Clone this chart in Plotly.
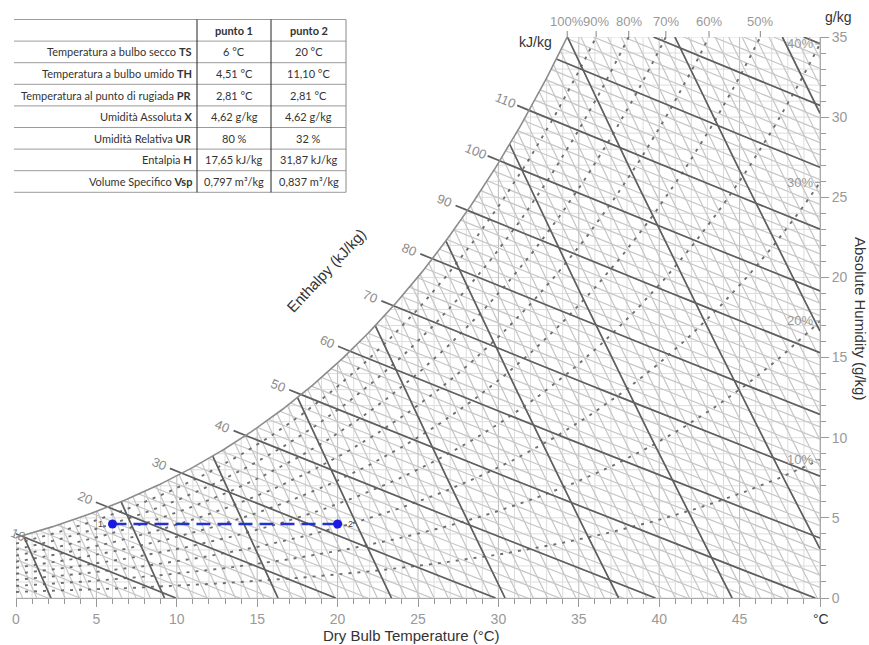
import numpy as np
import plotly.graph_objects as go

# ---------------- data ----------------
# process points (dry bulb °C, absolute humidity g/kg)
point_names = ["1", "2"]
point_t = [6, 20]
point_x = [4.62, 4.62]

# chart families
rh_levels = [0.1, 0.2, 0.3, 0.4, 0.5, 0.6, 0.7, 0.8, 0.9]
rh_top_labels = [1.0, 0.9, 0.8, 0.7, 0.6, 0.5]
rh_right_labels = [0.4, 0.3, 0.2, 0.1]
enthalpy_thin = list(range(2, 141, 2))          # kJ/kg
enthalpy_bold = list(range(10, 141, 10))        # kJ/kg
enthalpy_labelled = list(range(10, 111, 10))    # kJ/kg
volume_step_thin = 0.0025                      # m3/kg
volume_step_bold = 0.02                        # m3/kg
x_ticks = [0, 5, 10, 15, 20, 25, 30, 35, 40, 45, 50]
x_ticktext = ["0", "5", "10", "15", "20", "25", "30", "35", "40", "45", ""]
y_ticks = [0, 5, 10, 15, 20, 25, 30, 35]

# table
table_header = ["punto 1", "punto 2"]
row_labels = ["Temperatura a bulbo secco", "Temperatura a bulbo umido",
              "Temperatura al punto di rugiada", "Umidità Assoluta",
              "Umidità Relativa", "Entalpia", "Volume Specifico"]
row_codes = ["TS", "TH", "PR", "X", "UR", "H", "Vsp"]
punto1 = ["6 °C", "4,51 °C", "2,81 °C", "4,62 g/kg", "80 %", "17,65 kJ/kg", "0,797 m³/kg"]
punto2 = ["20 °C", "11,10 °C", "2,81 °C", "4,62 g/kg", "32 %", "31,87 kJ/kg", "0,837 m³/kg"]

# ---------------- psychrometrics ----------------
P = 101.325
TMAX, XMAX = 50.0, 35.0


def p_sat(t):
    return 0.61094 * np.exp(17.625 * t / (t + 243.04))


def x_sat(t):
    ps = p_sat(t)
    return 622.0 * ps / (P - ps)


def t_dew(x):
    ps = x * P / (622.0 + x)
    a = np.log(ps / 0.61094)
    return 243.04 * a / (17.625 - a)


def x_h(h, t):
    return (h - 1.006 * t) / (2.501 + 0.00186 * t)


def x_v(v, t):
    return (v * P / (0.287055 * (t + 273.15)) - 1.0) / 1.6078 * 1000.0


def upper(t):
    return min(x_sat(t), XMAX)


def bisect(f, a, b, n=70):
    fa = f(a)
    for _ in range(n):
        m = 0.5 * (a + b)
        fm = f(m)
        if (fm > 0) == (fa > 0):
            a, fa = m, fm
        else:
            b = m
    return 0.5 * (a + b)


def clip_line(fx, npts=25):
    if fx(0) < 0:
        return None
    if fx(TMAX) - upper(TMAX) > 0:
        return None
    if fx(0) <= upper(0):
        t0 = 0.0
    else:
        t0 = bisect(lambda t: fx(t) - upper(t), 0.0, TMAX)
    if fx(TMAX) >= 0:
        t1 = TMAX
    else:
        t1 = bisect(fx, t0, TMAX)
    if t1 <= t0:
        return None
    ts = np.linspace(t0, t1, npts)
    return list(ts), [fx(t) for t in ts]


def join(segs):
    X, Y = [], []
    for s in segs:
        if s is None:
            continue
        X += list(s[0]) + [None]
        Y += list(s[1]) + [None]
    return X, Y


fig = go.Figure()


def add_line(segs, color, width, dash="solid"):
    X, Y = join(segs)
    fig.add_trace(go.Scatter(x=X, y=Y, mode="lines", hoverinfo="skip",
                             line=dict(color=color, width=width, dash=dash),
                             showlegend=False))


# grid
vminor, vmajor = [], []
for t in range(0, 51):
    seg = ([t, t], [0, upper(t)])
    (vmajor if t % 5 == 0 else vminor).append(seg)
hgrid = []
for x in range(0, 36):
    t0 = 0.0 if x <= x_sat(0) else float(t_dew(x))
    hgrid.append(([t0, TMAX], [x, x]))
add_line(vminor + hgrid, "#dddddd", 1)
add_line(vmajor, "#bcbcbc", 1)

# thin enthalpy & volume lines
ent_thin = [clip_line(lambda t, h=h: x_h(h, t)) for h in enthalpy_thin]
k_lo, k_hi = int(0.77 / volume_step_thin), int(0.97 / volume_step_thin) + 1
vol_thin = [clip_line(lambda t, v=k * volume_step_thin: x_v(v, t)) for k in range(k_lo, k_hi)]
add_line(ent_thin + vol_thin, "#c6c6c6", 1.2)

# relative humidity curves (dotted)
rh_segs = []
for phi in rh_levels:
    if phi * x_sat(TMAX) <= XMAX:
        te = TMAX
    else:
        te = bisect(lambda t, p=phi: p * x_sat(t) - XMAX, 0.0, TMAX)
    ts = np.linspace(0, te, 150)
    rh_segs.append((list(ts), [phi * x_sat(t) for t in ts]))
add_line(rh_segs, "#6e6e6e", 1.9, dash="3px,6px")

# bold enthalpy + volume lines, with leaders for labelled enthalpies
bold = [clip_line(lambda t, h=h: x_h(h, t)) for h in enthalpy_bold]
kb = int(round(volume_step_bold / volume_step_thin))
bold += [clip_line(lambda t, v=k * volume_step_thin: x_v(v, t))
         for k in range(k_lo, k_hi) if k % kb == 0]
ent_label_pos = []
for h in enthalpy_labelled:
    ts_ = bisect(lambda t, h=h: x_h(h, t) - x_sat(t), 0.0, TMAX)
    lt = [ts_ - 0.75, ts_]
    bold.append((lt, [x_h(h, t) for t in lt]))
    tl = max(ts_ - 1.45, 0.1)
    ent_label_pos.append((h, tl, x_h(h, tl)))
add_line(bold, "#5f5f5f", 1.7)

# saturation curve
t_top = bisect(lambda t: x_sat(t) - XMAX, 0.0, TMAX)
ts = np.linspace(0, t_top, 200)
add_line([(list(ts), [x_sat(t) for t in ts])], "#8c8c8c", 1.6)

# process
fig.add_trace(go.Scatter(x=point_t, y=point_x, mode="lines+markers", hoverinfo="skip",
                         line=dict(color="#2233cc", width=2.4, dash="14px,7px"),
                         marker=dict(color="#1a1ae6", size=9), showlegend=False))

# ---------------- layout ----------------
# screen plot area: x 16..820, y 37..598 (page body margin removed below)
W, H = 869, 645
SL, SR, ST, SB = 16, 820, 37, 598
L, T, R, B = SL, ST, W - SR, H - SB
PW, PH = SR - SL, SB - ST


def px(xs):
    return (xs - SL) / PW


def py(ys):
    return (SB - ys) / PH


ann = []
shapes = []
GRAY = "#999999"
DARK = "#333333"


def A(**kw):
    kw.setdefault("showarrow", False)
    kw.setdefault("xanchor", "center")
    kw.setdefault("yanchor", "middle")
    ann.append(kw)


for h, tl, xl in ent_label_pos:
    A(x=tl, y=xl, xref="x", yref="y", text=str(h), textangle=22,
      font=dict(size=13, color="#8c8c8c", family="Liberation Sans"))

for phi in rh_top_labels:
    tt = bisect(lambda t, p=phi: p * x_sat(t) - XMAX, 0.0, TMAX)
    A(x=tt, y=py(22), xref="x", yref="paper", text=f"{int(round(phi*100))}%",
      font=dict(size=13, color=GRAY, family="Liberation Sans"))
    shapes.append(dict(type="line", xref="x", yref="paper", x0=tt, x1=tt, y0=1, y1=py(31),
                       line=dict(color=GRAY, width=1.2)))

for phi in rh_right_labels:
    yy = phi * x_sat(TMAX)
    A(x=48.75, y=yy, xref="x", yref="y", text=f"{int(round(phi*100))}%",
      font=dict(size=13, color=GRAY, family="Liberation Sans"))
    shapes.append(dict(type="line", xref="x", yref="y", x0=49.7, x1=50, y0=yy, y1=yy,
                       line=dict(color=GRAY, width=1)))

for name, t, x, dx, anc in zip(point_names, point_t, point_x, [-0.45, 0.55], ["right", "left"]):
    A(x=t + dx, y=x, xref="x", yref="y", text=name, xanchor=anc,
      font=dict(size=9, color="#444", family="Liberation Sans"))

# chart text labels
A(x=px(411), y=py(635), xref="paper", yref="paper", text="Dry Bulb Temperature (°C)",
  font=dict(size=15, color=DARK, family="Liberation Sans"))
A(x=px(861), y=py(318), xref="paper", yref="paper", text="Absolute Humidity (g/kg)",
  textangle=90, font=dict(size=15, color=DARK, family="Liberation Sans"))
A(x=px(838), y=py(17), xref="paper", yref="paper", text="g/kg",
  font=dict(size=14, color=DARK, family="Liberation Sans"))
A(x=px(535), y=py(42), xref="paper", yref="paper", text="kJ/kg",
  font=dict(size=14, color=DARK, family="Liberation Sans"))
A(x=px(821), y=py(619), xref="paper", yref="paper", text="°C",
  font=dict(size=14, color=DARK, family="Liberation Sans"))
A(x=px(326), y=py(270), xref="paper", yref="paper", text="Enthalpy (kJ/kg)",
  textangle=-47, font=dict(size=15, color=DARK, family="Liberation Sans"))

# table
tx = [14, 197, 271, 346]
row_h = 21.6
ty0 = 19.5
nrows = len(row_labels) + 1
for i in range(nrows + 1):
    yy = ty0 + i * row_h
    shapes.append(dict(type="line", xref="paper", yref="paper", x0=px(tx[0]), x1=px(tx[3]),
                       y0=py(yy), y1=py(yy), line=dict(color="#9a9a9a", width=1)))
for xx, col in [(tx[1], "#222222"), (tx[2], "#222222"), (tx[3], "#888888")]:
    shapes.append(dict(type="line", xref="paper", yref="paper", x0=px(xx), x1=px(xx),
                       y0=py(ty0), y1=py(ty0 + nrows * row_h), line=dict(color=col, width=1)))
tfont = dict(size=11, color=DARK, family="Lato")
c1, c2 = (tx[1] + tx[2]) / 2, (tx[2] + tx[3]) / 2
A(x=px(c1), y=py(ty0 + row_h / 2), xref="paper", yref="paper",
  text=f"<b>{table_header[0]}</b>", font=tfont)
A(x=px(c2), y=py(ty0 + row_h / 2), xref="paper", yref="paper",
  text=f"<b>{table_header[1]}</b>", font=tfont)
for i, (lab, code, v1, v2) in enumerate(zip(row_labels, row_codes, punto1, punto2)):
    yc = py(ty0 + (i + 1.5) * row_h)
    A(x=px(tx[1] - 3), y=yc, xref="paper", yref="paper", xanchor="right",
      text=f"{lab} <b>{code}</b>", font=tfont)
    A(x=px(c1), y=yc, xref="paper", yref="paper", text=v1, font=tfont)
    A(x=px(c2), y=yc, xref="paper", yref="paper", text=v2, font=tfont)

fig.update_layout(
    width=W, height=H,
    margin=dict(l=L, r=R, t=T, b=B, pad=0, autoexpand=False),
    paper_bgcolor="white", plot_bgcolor="white",
    font=dict(family="Liberation Sans"),
    showlegend=False,
    annotations=ann, shapes=shapes,
    xaxis=dict(range=[0, 50], tickmode="array", tickvals=x_ticks, ticktext=x_ticktext,
               ticks="outside", ticklen=8, tickcolor=GRAY, showgrid=False, zeroline=False,
               showline=True, linecolor="#aaaaaa", automargin=False,
               tickfont=dict(size=14, color=GRAY),
               minor=dict(tickmode="linear", tick0=0, dtick=1, ticks="outside", ticklen=5,
                          tickcolor=GRAY, showgrid=False)),
    yaxis=dict(range=[0, 35], side="right", tickmode="array", tickvals=y_ticks,
               ticks="outside", ticklen=8, tickcolor=GRAY, showgrid=False, zeroline=False,
               showline=True, linecolor="#aaaaaa", automargin=False,
               tickfont=dict(size=14, color=GRAY),
               minor=dict(tickmode="linear", tick0=0, dtick=1, ticks="outside", ticklen=5,
                          tickcolor=GRAY, showgrid=False)),
)

fig.write_html("out.html", config={"displayModeBar": False},
               post_script="document.body.style.margin='0';document.body.style.overflow='hidden';")
